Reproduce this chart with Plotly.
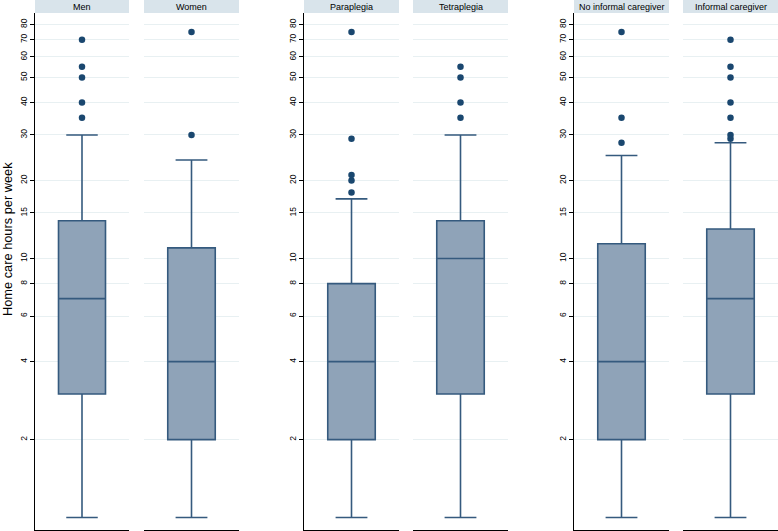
import numpy as np
import plotly.graph_objects as go

# --- data (hours per week) ---
groups = ["Men", "Women", "Paraplegia", "Tetraplegia", "No informal caregiver", "Informal caregiver"]
lower_whisker = [1, 1, 1, 1, 1, 1]
q1 = [3, 2, 2, 3, 2, 3]
median = [7, 4, 4, 10, 4, 7]
q3 = [14, 11, 8, 14, 11.4, 13]
upper_whisker = [30, 24, 17, 30, 25, 28]
outliers = [
    [35, 40, 50, 55, 70],
    [30, 75],
    [18, 20, 21, 29, 75],
    [35, 40, 50, 55],
    [28, 35, 75],
    [29, 30, 35, 40, 50, 55, 70],
]
tick_vals = [2, 4, 6, 8, 10, 15, 20, 30, 40, 50, 60, 70, 80]

# --- style ---
W, H = 778, 531
BOX_FILL = "#8fa3b8"
BOX_LINE = "#355a7e"
DOT = "#1a476f"
GRID = "#e8f0f2"
STRIP = "#d9e4eb"
FONT = "Liberation Sans"

# panel edges in pixels (left, right)
panels_px = [(35, 129), (144, 239), (304, 399), (413, 508), (574, 669), (683, 778)]
plot_top, plot_bottom = 13, 530
y_dom = [1 - plot_bottom / H, 1 - plot_top / H]
y_range = [-0.048, 1.948]

fig = go.Figure()
layout = {}

for n, name in enumerate(groups):
    ax = "" if n == 0 else str(n + 1)
    fig.add_trace(go.Box(
        x=[0], q1=[q1[n]], median=[median[n]], q3=[q3[n]],
        lowerfence=[lower_whisker[n]], upperfence=[upper_whisker[n]],
        width=0.5, whiskerwidth=0.67,
        fillcolor=BOX_FILL, line=dict(color=BOX_LINE, width=1.6),
        boxpoints=False, showlegend=False, hoverinfo="skip",
        xaxis="x" + ax, yaxis="y" + ax,
    ))
    fig.add_trace(go.Scatter(
        x=[0] * len(outliers[n]), y=outliers[n], mode="markers",
        marker=dict(color=DOT, size=6.5), showlegend=False,
        xaxis="x" + ax, yaxis="y" + ax,
    ))

    l, r = panels_px[n]
    first = n % 2 == 0
    layout["xaxis" + ax] = dict(
        domain=[l / W, r / W], range=[-0.5, 0.5], anchor="y" + ax,
        showticklabels=False, ticks="", showgrid=False, zeroline=False,
        showline=True, linecolor="#000000", linewidth=1,
    )
    layout["yaxis" + ax] = dict(
        type="log", domain=y_dom, range=y_range, anchor="x" + ax,
        tickvals=tick_vals, ticktext=[str(v) for v in tick_vals],
        showticklabels=first, ticks="outside" if first else "",
        ticklen=4, tickcolor="#000000", tickangle=-90,
        tickfont=dict(family=FONT, size=8.5, color="#000000"),
        showgrid=True, gridcolor=GRID, gridwidth=1, zeroline=False,
        showline=first, linecolor="#000000", linewidth=1,
    )

    # header strip with panel label
    fig.add_shape(type="rect", xref="paper", yref="paper",
                  x0=l / W, x1=r / W, y0=1 - plot_top / H, y1=1,
                  fillcolor=STRIP, line=dict(width=0), layer="below")
    fig.add_annotation(text=name, xref="paper", yref="paper",
                       x=(l + r) / 2 / W, y=1 - plot_top / 2 / H,
                       showarrow=False, xanchor="center", yanchor="middle",
                       font=dict(family=FONT, size=9, color="#000000"))

fig.add_annotation(text="Home care hours per week", xref="paper", yref="paper",
                   x=7 / W, y=1 - 239 / H, textangle=-90, showarrow=False,
                   xanchor="center", yanchor="middle",
                   font=dict(family=FONT, size=12.8, color="#000000"))

fig.update_layout(
    width=W, height=H,
    margin=dict(l=0, r=0, t=0, b=0),
    paper_bgcolor="white", plot_bgcolor="white",
    **layout,
)

# page body has a default 8px margin, drop it so the figure sits at 0,0
fig.write_html("out.html", config={"displayModeBar": False},
               post_script="document.body.style.margin='0';")
